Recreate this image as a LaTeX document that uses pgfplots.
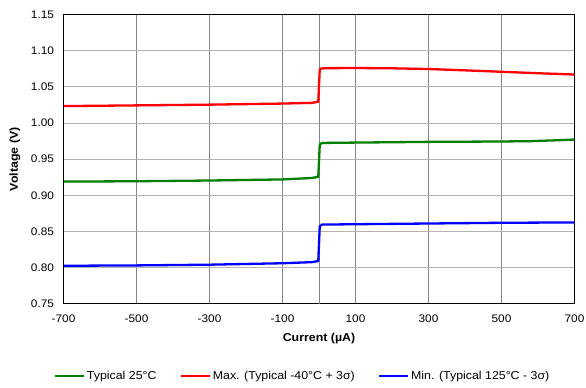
\documentclass[border=0pt]{standalone}
\usepackage{fontspec}
\setmainfont{Liberation Sans}[FakeStretch=1.08]
\usepackage{pgfplots}
\pgfplotsset{compat=1.18}
\definecolor{cgreen}{RGB}{0,128,0}
\definecolor{cred}{RGB}{255,0,0}
\definecolor{cblue}{RGB}{0,0,255}
\begin{document}
\begin{tikzpicture}
\begin{axis}[
  scale only axis,
  width=511bp, height=289bp,
  xmin=-700, xmax=700, ymin=0.75, ymax=1.15,
  xtick={-700,-500,...,700},
  ytick={0.75,0.80,...,1.151},
  yticklabel style={/pgf/number format/fixed,/pgf/number format/fixed zerofill,/pgf/number format/precision=2},
  /pgf/number format/assume math mode=true,
  major tick length=0pt,
  xticklabel shift=8bp,
  yticklabel shift=6bp,
  xmajorgrids, ymajorgrids,
  x grid style={color=black!48, line width=0.9bp},
  y grid style={color=black!30, line width=1bp},
  axis line style={black, line width=1.2bp},
  extra x ticks={0},
  extra x tick labels={},
  extra x tick style={grid style={black, line width=1.1bp}},
  tick label style={font=\fontsize{11}{13}\selectfont},
  xlabel={\textbf{Current (µA)}},
  ylabel={\textbf{Voltage (V)}},
  label style={font=\fontsize{11.5}{13}\selectfont},
  xlabel style={at={(axis description cs:0.5,-0.119)}, anchor=center},
  ylabel style={at={(axis description cs:-0.0949,0.5)}, anchor=center},
  legend columns=3,
  legend style={draw=none, at={(0.4677,-0.251)}, anchor=center, font=\fontsize{11.5}{13}\selectfont,
    /tikz/every even column/.append style={column sep=21bp}},
  legend image code/.code={\draw[#1] (0bp,0bp) -- (29bp,0bp);},
  every axis plot/.append style={line width=2.3bp, line join=round},
]
\addplot[cgreen] coordinates {(-700,0.919) (-500,0.9195) (-300,0.9205) (-100,0.922) (-20,0.924) (-2,0.9255) (2,0.970) (8,0.9725) (100,0.973) (300,0.974) (500,0.9745) (580,0.975) (640,0.976) (700,0.9772)};
\addlegendentry{Typical 25°C}
\addplot[cred] coordinates {(-700,1.0235) (-500,1.0245) (-300,1.0255) (-100,1.027) (-20,1.028) (-2,1.0295) (2,1.074) (6,1.0755) (20,1.076) (100,1.0762) (200,1.0758) (300,1.0748) (400,1.073) (500,1.071) (600,1.069) (700,1.0672)};
\addlegendentry{Max. (Typical -40°C + 3σ)}
\addplot[cblue] coordinates {(-700,0.8025) (-500,0.803) (-300,0.804) (-100,0.806) (-20,0.8075) (-2,0.809) (2,0.857) (8,0.8595) (100,0.860) (300,0.861) (500,0.862) (700,0.8625)};
\addlegendentry{Min. (Typical 125°C - 3σ)}
\end{axis}
\pgfresetboundingbox
\useasboundingbox ([shift={(-63.5bp,-83.5bp)}]current axis.south west) rectangle ([shift={(11.5bp,14.7bp)}]current axis.north east);
\end{tikzpicture}
\end{document}
